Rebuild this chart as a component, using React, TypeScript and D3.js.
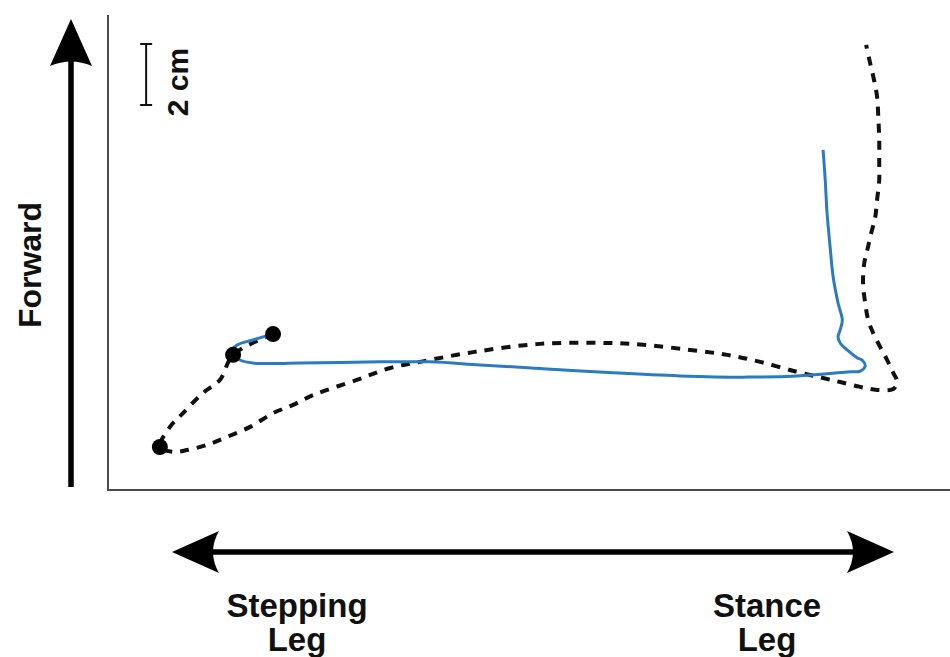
import React from 'react';
import * as d3 from 'd3';

// foot trajectories, in cm (x: toward stance leg, y: forward)
const dashedX = [5.41, 4.10, 3.67, 3.11, 2.46, 2.03, 1.70, 2.13, 2.59, 3.25, 3.90, 4.66, 5.41, 6.07, 6.72, 8.16, 9.25, 10.23, 11.97, 14.16, 16.36, 17.67, 19.08, 20.30, 21.38, 22.59, 23.44, 24.00, 24.66, 25.21, 25.74, 25.87, 25.74, 25.54, 25.31, 25.08, 24.92, 24.82, 24.75, 24.79, 24.89, 25.02, 25.15, 25.21, 25.28, 25.28, 25.28, 25.25, 25.21, 25.11, 24.98, 24.85];
const dashedY = [5.11, 4.43, 3.61, 3.18, 2.52, 2.07, 1.41, 1.25, 1.31, 1.48, 1.74, 2.07, 2.52, 2.79, 3.11, 3.61, 4.00, 4.20, 4.52, 4.79, 4.82, 4.75, 4.59, 4.43, 4.20, 3.87, 3.67, 3.54, 3.38, 3.28, 3.31, 3.54, 3.84, 4.26, 4.69, 5.15, 5.57, 6.13, 6.79, 7.44, 7.87, 8.43, 8.95, 9.51, 10.16, 10.72, 11.48, 12.23, 12.89, 13.44, 14.00, 14.59];

const blueX = [5.41, 4.75, 4.23, 4.03, 4.33, 4.75, 6.30, 8.92, 10.56, 12.20, 14.39, 16.56, 18.75, 20.95, 22.59, 24.23, 24.66, 24.82, 24.72, 24.56, 24.23, 24.00, 23.93, 24.00, 24.07, 23.93, 23.77, 23.67, 23.57, 23.51, 23.44];
const blueY = [5.11, 4.92, 4.75, 4.52, 4.26, 4.16, 4.16, 4.20, 4.20, 4.10, 3.97, 3.84, 3.74, 3.70, 3.74, 3.87, 3.90, 4.07, 4.26, 4.33, 4.59, 4.82, 5.02, 5.25, 5.57, 6.13, 6.98, 7.97, 9.08, 10.16, 11.15];

const markerX = [1.70, 4.10, 5.41];
const markerY = [1.41, 4.43, 5.11];

const scaleBarCm = 2;
const scaleBarTop = 14.62;
const scaleBarX = 1.25;

const W = 950;
const H = 657;

export default function App() {
  const x = d3.scaleLinear().domain([0, 27.6]).range([108, 950]);
  const y = d3.scaleLinear().domain([0, 15.57]).range([490, 15]);

  const line = d3
    .line<[number, number]>()
    .x((d) => x(d[0]))
    .y((d) => y(d[1]))
    .curve(d3.curveCatmullRom.alpha(0.5));

  const dashed = line(dashedX.map((v, i) => [v, dashedY[i]]));
  const blue = line(blueX.map((v, i) => [v, blueY[i]]));

  const font = "'Liberation Sans', Arial, sans-serif";
  const bx = x(scaleBarX);
  const by0 = y(scaleBarTop);
  const by1 = y(scaleBarTop - scaleBarCm);

  return (
    <svg width={W} height={H} style={{ position: 'absolute', left: 0, top: 0, background: '#fff' }}>
      {/* axes */}
      <line x1={108} y1={15} x2={108} y2={490} stroke="#4a4a4a" strokeWidth={2} />
      <line x1={107} y1={490} x2={950} y2={490} stroke="#4a4a4a" strokeWidth={2} />

      {/* forward arrow */}
      <line x1={71} y1={58} x2={71} y2={487} stroke="#000" strokeWidth={5.5} />
      <path d="M71,19 L92,66 Q71,57 50,66 Z" fill="#000" />
      <text
        transform="translate(41,265) rotate(-90)"
        textAnchor="middle"
        fontFamily={font}
        fontWeight="bold"
        fontSize={32}
        fill="#111"
      >
        Forward
      </text>

      {/* scale bar */}
      <g stroke="#111" strokeWidth={2}>
        <line x1={bx} y1={by0} x2={bx} y2={by1} />
        <line x1={bx - 6} y1={by0} x2={bx + 6} y2={by0} />
        <line x1={bx - 6} y1={by1} x2={bx + 6} y2={by1} />
      </g>
      <text
        transform="translate(188,82) rotate(-90)"
        textAnchor="middle"
        fontFamily={font}
        fontWeight="bold"
        fontSize={30}
        fill="#111"
      >
        2 cm
      </text>

      {/* trajectories */}
      <path d={dashed ?? ''} fill="none" stroke="#111" strokeWidth={4} strokeDasharray="9 8" />
      <path d={blue ?? ''} fill="none" stroke="#2b7bc1" strokeWidth={3} />
      {markerX.map((v, i) => (
        <circle key={i} cx={x(v)} cy={y(markerY[i])} r={8} fill="#000" />
      ))}

      {/* lateral arrow */}
      <line x1={205} y1={552} x2={860} y2={552} stroke="#000" strokeWidth={5.5} />
      <path d="M172,552 L219,531 Q207,552 219,573 Z" fill="#000" />
      <path d="M894,552 L847,531 Q859,552 847,573 Z" fill="#000" />

      <g fontFamily={font} fontWeight="bold" fontSize={33} fill="#111" textAnchor="middle">
        <text x={297} y={617}>Stepping</text>
        <text x={297} y={651}>Leg</text>
        <text x={767} y={617}>Stance</text>
        <text x={767} y={651}>Leg</text>
      </g>
    </svg>
  );
}
